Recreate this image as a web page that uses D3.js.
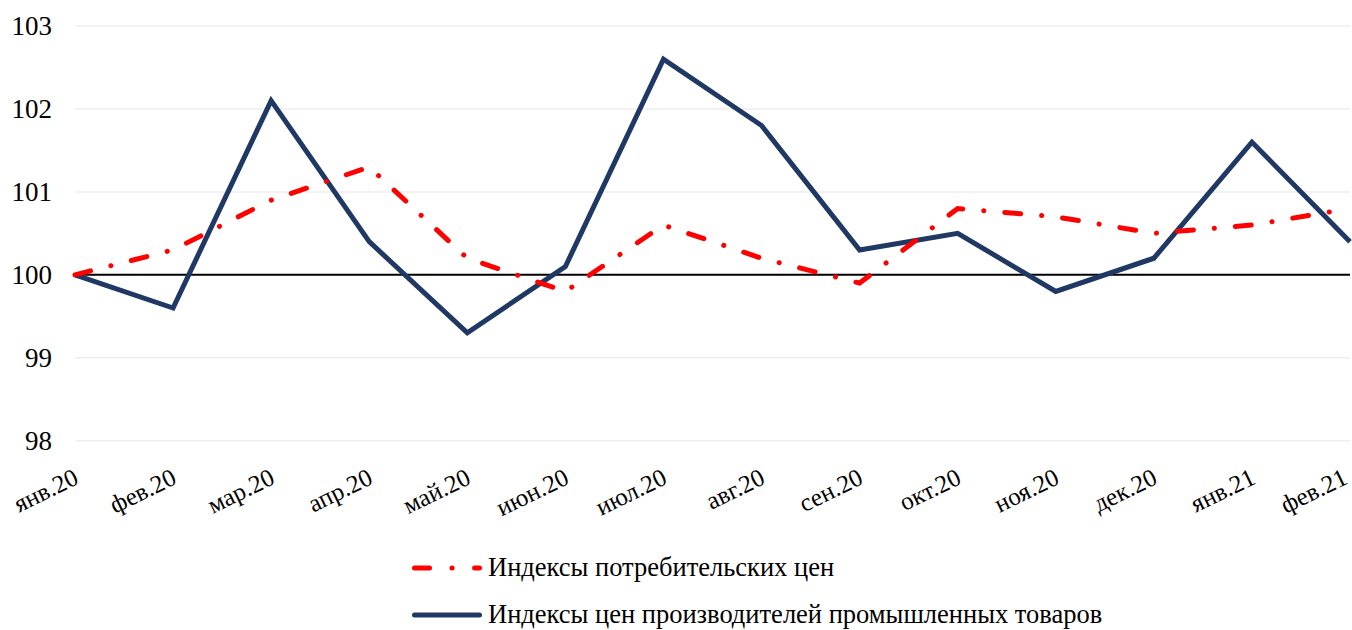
<!DOCTYPE html>
<html>
<head>
<meta charset="utf-8">
<script src="https://cdn.jsdelivr.net/npm/d3@7"></script>
<style>
  body { margin: 0; background: #fff; }
</style>
</head>
<body>
<div id="chart"></div>
<script>
// months
const months = ['янв.20', 'фев.20', 'мар.20', 'апр.20', 'май.20', 'июн.20', 'июл.20',
  'авг.20', 'сен.20', 'окт.20', 'ноя.20', 'дек.20', 'янв.21', 'фев.21'];
// consumer price index
const cpi = [100.0, 100.3, 100.9, 101.3, 100.2, 99.8, 100.6, 100.2, 99.9, 100.8, 100.7, 100.5, 100.6, 100.8];
// producer price index
const ppi = [100.0, 99.6, 102.1, 100.4, 99.3, 100.1, 102.6, 101.8, 100.3, 100.5, 99.8, 100.2, 101.6, 100.4];
const yTicks = [98, 99, 100, 101, 102, 103];
const seriesNames = ['Индексы потребительских цен', 'Индексы цен производителей промышленных товаров'];

const FONT = '"Liberation Serif", "Times New Roman", serif';
const width = 1352, height = 630;
const svg = d3.select('#chart').append('svg')
  .attr('width', width)
  .attr('height', height);

const x = d3.scalePoint().domain(months).range([75, 1350]);
const y = d3.scaleLinear().domain([98, 103]).range([440.7, 26]);

// gridlines
svg.append('g').selectAll('line')
  .data(yTicks.filter(d => d !== 100))
  .enter().append('line')
  .attr('x1', 75).attr('x2', 1350)
  .attr('y1', d => y(d)).attr('y2', d => y(d))
  .attr('stroke', '#eeeeee')
  .attr('stroke-width', 1.5);

// y axis labels
const yAxis = svg.append('g')
  .attr('transform', 'translate(75,0)')
  .call(d3.axisLeft(y).tickValues(yTicks).tickFormat(d3.format('d')).tickSize(0).tickPadding(23));
yAxis.select('.domain').remove();
yAxis.selectAll('text')
  .attr('fill', '#000')
  .style('font-family', FONT)
  .style('font-size', '27px');

// x axis at 100
svg.append('line')
  .attr('x1', 75).attr('x2', 1350)
  .attr('y1', y(100)).attr('y2', y(100))
  .attr('stroke', '#000')
  .attr('stroke-width', 2);

// x labels
svg.append('g').selectAll('text')
  .data(months)
  .enter().append('text')
  .attr('transform', d => 'translate(' + Math.min(x(d) + 5, 1349) + ',' + 483 + ') rotate(-26)')
  .attr('text-anchor', 'end')
  .style('font-family', FONT)
  .style('font-size', '25px')
  .text(d => d);

const line = d3.line()
  .x((d, i) => x(months[i]))
  .y(d => y(d));

svg.append('path')
  .datum(ppi)
  .attr('d', line)
  .attr('fill', 'none')
  .attr('stroke', '#1f3864')
  .attr('stroke-width', 5)
  .attr('stroke-linejoin', 'miter');

svg.append('path')
  .datum(cpi)
  .attr('d', line)
  .attr('fill', 'none')
  .attr('stroke', '#ff0000')
  .attr('stroke-width', 5)
  .attr('stroke-linecap', 'round')
  .attr('stroke-dasharray', '16,21,0.1,21');

// legend
const legend = svg.append('g');
const legendRows = [
  { name: seriesNames[0], color: '#ff0000', dash: '15,22.5,0.1,22.5', y: 568 },
  { name: seriesNames[1], color: '#1f3864', dash: null, y: 615 }
];
legendRows.forEach(function(r) {
  legend.append('line')
    .attr('x1', 414.5).attr('x2', 479.5)
    .attr('y1', r.y).attr('y2', r.y)
    .attr('stroke', r.color)
    .attr('stroke-width', 5)
    .attr('stroke-linecap', 'round')
    .attr('stroke-dasharray', r.dash);
  legend.append('text')
    .attr('x', 488)
    .attr('y', r.y + 8)
    .style('font-family', FONT)
    .style('font-size', '26.5px')
    .text(r.name);
});
</script>
</body>
</html>
